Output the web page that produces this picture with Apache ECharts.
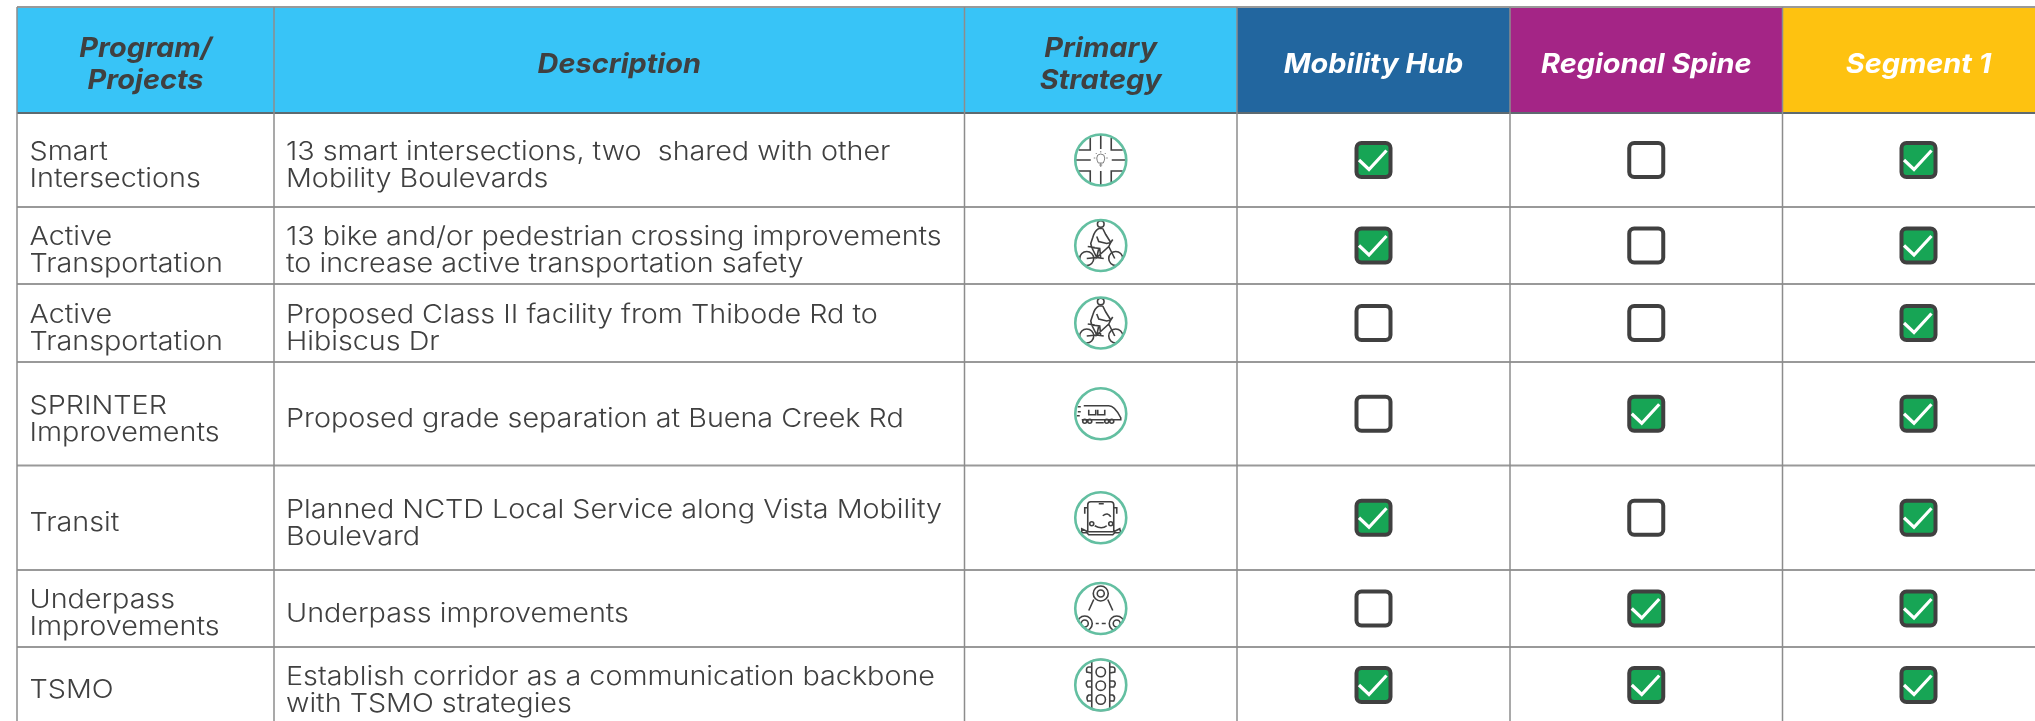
<!DOCTYPE html>
<html><head><meta charset="utf-8">
<style>html,body{margin:0;padding:0;background:#fff;overflow:hidden}#c{width:2035px;height:721px}</style>
<script src="https://cdn.jsdelivr.net/npm/echarts@6/dist/echarts.min.js"></script>
</head><body><div id="c"></div>
<script>
// ---- table content ----
const headers = ['Program/\nProjects', 'Description', 'Primary\nStrategy', 'Mobility Hub', 'Regional Spine', 'Segment 1'];
const programs = ['Smart\nIntersections', 'Active\nTransportation', 'Active\nTransportation', 'SPRINTER\nImprovements', 'Transit', 'Underpass\nImprovements', 'TSMO'];
const descriptions = [
  '13 smart intersections, two  shared with other\nMobility Boulevards',
  '13 bike and/or pedestrian crossing improvements\nto increase active transportation safety',
  'Proposed Class II facility from Thibode Rd to\nHibiscus Dr',
  'Proposed grade separation at Buena Creek Rd',
  'Planned NCTD Local Service along Vista Mobility\nBoulevard',
  'Underpass improvements',
  'Establish corridor as a communication backbone\nwith TSMO strategies'
];
const strategies = ['intersection', 'bike', 'bike', 'train', 'bus', 'underpass', 'signal'];
const mobilityHub   = [1, 1, 0, 0, 1, 0, 1];
const regionalSpine = [0, 0, 0, 1, 0, 1, 1];
const segment1      = [1, 1, 1, 1, 1, 1, 1];

// ---- layout (page units of the hidden axes) ----
const colEdges = [17, 274, 964.5, 1237, 1510, 1782.5, 2055];
const rowEdges = [7, 113, 207, 284, 362, 465.5, 570, 647, 723];
const headerFills = ['#38C4F7', '#38C4F7', '#38C4F7', '#22669F', '#A42586', '#FEC210'];
const headerInk = ['#404040', '#404040', '#404040', '#FFFFFF', '#FFFFFF', '#FFFFFF'];
const INK = '#404040', TEAL = '#63BFA1', GREEN = '#17A555';
const BODY_FONT = '300 26px Inter', HEAD_FONT = 'italic 700 27px Inter';
const BODY_SX = 1.105, HEAD_SX = 1.07;

const iconPaths = {
  intersection: 'M0 -25V-11 M0 11V25 M-25 0H-10 M11 0H25 M-10.5 -22V-10H-22 M10.5 -22V-10H22 M-10.5 22V11H-22 M10.5 22V11H22',
  bike: 'M-2 -17 Q-6 -15 -8 -8 L-10 -2 L-9 2 L-1 3 L0 13 M2 -17 L5 -11 L10 -3 L12 -6 M-2 -17 L2 -17 M-4 -9 L-2 -4 L6 -2 L10 -3 M-9 2 L-4 12 L3 13 M-2 3 L-4 12 L8 1 L10 -3 M-13 1 L-6 2 M8 1 L14 13 M-4 12 L-14 13',
  train: 'M-17 -8H8 C13 -8 18 0 20 4 V6 H-19 M-12 -4V1H-5V-4 M-3 -4V1H4V-4 M-5 9H3 M-23 -7H-20 M-23 -2H-20 M-24 2H-21',
  bus: 'M-10 -16H10 Q13 -16 13 -13 V14 H-13 V-13 Q-13 -16 -10 -16 Z M-2 -14H3 M-13 -10H-16 V-4 M13 -10H16 V-4 M-6 8 Q1 12 6 8 M2 -2 Q7 -6 10 -1 M-13 14 L-19 11 L-19 15 H-14 L-12 17 H12 L14 15 H20 L19 11 L13 14',
  underpass: 'M-7 -9 L-12 2 M7 -9 L12 2 M-5 15H-2 M1 15H5',
  signal: 'M-9 -26H9 V26 H-9 Z M-9 -18 H-12 Q-15 -18 -14 -13 L-9 -12 M9 -18 H12 Q15 -18 14 -13 L9 -12 M-9 -4 H-13 Q-16 -2 -13 2 H-9 M9 -4 H13 Q16 -2 13 2 H9 M-9 10 H-12 Q-15 12 -13 16 H-9 M9 10 H12 Q15 12 13 16 H9'
};
const iconCircles = {
  intersection: [],
  bike: [[0, -21.5, 3.3], [-14, 13, 7], [15, 13, 7]],
  train: [[-16, 7.5, 2], [-11, 7.5, 2], [6, 7.5, 2], [11, 7.5, 2]],
  bus: [[-9, 6, 2], [10, 6, 2]],
  underpass: [[0, -15, 7.5], [0, -15, 3.5], [-16, 15, 7.5], [-16, 15, 3.5], [16, 15, 7.5], [16, 15, 3.5]],
  signal: [[0, -13, 4.7], [0, 0.7, 4.7], [0, 14.5, 4.7]]
};

function textEl(api, px, py, str, font, fill, align, sx, lh) {
  const p = api.coord([px, py]);
  return { type: 'text', x: p[0], y: p[1], scaleX: sx, silent: true,
    style: { text: str, font, fill, align, verticalAlign: 'middle', lineHeight: lh } };
}
const midRow = r => (rowEdges[r] + rowEdges[r + 1]) / 2;
const midCol = c => (colEdges[c] + colEdges[c + 1]) / 2;

const headerSeries = {
  type: 'custom', coordinateSystem: 'cartesian2d', clip: false, silent: true,
  data: headers.map((h, i) => [i]),
  renderItem(params, api) {
    const c = api.value(0);
    const a = api.coord([colEdges[c], rowEdges[0]]), b = api.coord([colEdges[c + 1], rowEdges[1]]);
    return { type: 'group', children: [
      { type: 'rect', shape: { x: a[0], y: a[1], width: b[0] - a[0], height: b[1] - a[1] }, style: { fill: headerFills[c] } },
      textEl(api, c === 5 ? 1918.5 : midCol(c), midRow(0) + 5, headers[c], HEAD_FONT, headerInk[c], 'center', HEAD_SX, 32)
    ] };
  }
};
const bodySeries = {
  type: 'custom', coordinateSystem: 'cartesian2d', clip: false, silent: true,
  data: programs.map((p, i) => [i]),
  renderItem(params, api) {
    const r = api.value(0), y = midRow(r + 1) + 5.5;
    return { type: 'group', children: [
      textEl(api, 29.5, y, programs[r], BODY_FONT, INK, 'left', BODY_SX, 27),
      textEl(api, 286, y, descriptions[r], BODY_FONT, INK, 'left', BODY_SX, 27)
    ] };
  }
};
const lineSeries = {
  type: 'custom', coordinateSystem: 'cartesian2d', clip: false, silent: true, z: 3,
  data: rowEdges.map((e, i) => [i]).slice(0, 8).concat(colEdges.slice(0, 6).map((e, i) => [100 + i])),
  renderItem(params, api) {
    const k = api.value(0);
    if (k >= 100) {
      const x = colEdges[k - 100], a = api.coord([x, rowEdges[0]]), b = api.coord([x, rowEdges[8]]);
      return { type: 'line', shape: { x1: a[0], y1: a[1], x2: b[0], y2: b[1] }, style: { stroke: '#8C8C8C', lineWidth: 1.5 } };
    }
    const y = rowEdges[k], a = api.coord([colEdges[0], y]), b = api.coord([2035, y]);
    return { type: 'line', shape: { x1: a[0], y1: a[1], x2: b[0], y2: b[1] },
      style: { stroke: k === 1 ? '#5E6A70' : '#999999', lineWidth: 2 } };
  }
};
const iconSeries = {
  type: 'custom', coordinateSystem: 'cartesian2d', clip: false, silent: true, z: 4,
  data: strategies.map((s, i) => [i]),
  renderItem(params, api) {
    const r = api.value(0), s = strategies[r], p = api.coord([midCol(2), midRow(r + 1)]);
    const line = { fill: 'none', stroke: INK, lineWidth: 1.6 };
    const kids = [{ type: 'path', shape: { pathData: iconPaths[s] }, style: line }];
    iconCircles[s].forEach(c => kids.push({ type: 'circle', shape: { cx: c[0], cy: c[1], r: c[2] }, style: { fill: 'none', stroke: INK, lineWidth: 1.6 } }));
    if (s === 'intersection') {
      kids.push({ type: 'path', shape: { pathData: 'M-2.5 3 Q-4 0 -4 -2 A4 4 0 0 1 4 -2 Q4 0 2.5 3 Z M-1.5 5H1.5 M0 3V7 M-7 -2H-5.5 M5.5 -2H7 M0 -9V-7.5 M-5 -7L-4 -6 M5 -7L4 -6' }, style: { fill: 'none', stroke: '#808080', lineWidth: 1 } });
    }
    kids.push({ type: 'circle', shape: { cx: 0, cy: 0, r: 31 }, style: { fill: 'none', stroke: '#FFFFFF', lineWidth: 9 } });
    kids.push({ type: 'circle', shape: { cx: 0, cy: 0, r: 25.5 }, style: { fill: 'none', stroke: TEAL, lineWidth: 2.6 } });
    return { type: 'group', x: p[0], y: p[1], children: kids };
  }
};
const checkSeries = {
  type: 'custom', coordinateSystem: 'cartesian2d', clip: false, silent: true, z: 5,
  data: [mobilityHub, regionalSpine, segment1].flatMap((flags, col) => flags.map((v, row) => [col + 3, row, v])),
  renderItem(params, api) {
    const c = api.value(0), r = api.value(1), on = api.value(2);
    const p = api.coord([c === 5 ? 1918.5 : midCol(c), midRow(r + 1)]);
    const kids = [{ type: 'rect', shape: { x: -17, y: -17, width: 34, height: 34, r: 5 },
      style: { fill: on ? GREEN : '#FFFFFF', stroke: INK, lineWidth: 4 } }];
    if (on) kids.push({ type: 'polyline', shape: { points: [[-14.5, 0], [-4.5, 9.5], [13, -9.5]] }, style: { fill: 'none', stroke: '#FFFFFF', lineWidth: 3.2 } });
    return { type: 'group', x: p[0], y: p[1], children: kids };
  }
};

const chart = echarts.init(document.getElementById('c'), null, { renderer: 'canvas' });
chart.setOption({
  animation: false, backgroundColor: '#FFFFFF',
  grid: { left: 0, right: 0, top: 0, bottom: 0 },
  xAxis: { type: 'value', min: 0, max: 2035, show: false },
  yAxis: { type: 'value', min: 0, max: 721, inverse: true, show: false },
  series: [headerSeries, bodySeries, lineSeries, iconSeries, checkSeries]
});
</script></body></html>
